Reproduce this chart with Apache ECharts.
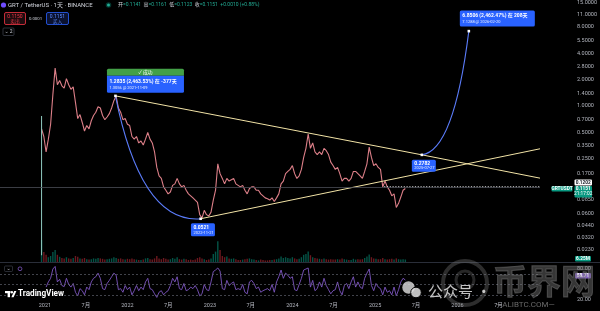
<!DOCTYPE html>
<html>
<head>
<meta charset="utf-8">
<script src="https://cdn.jsdelivr.net/npm/echarts@6.0.0/dist/echarts.min.js"></script>
<style>
html,body{margin:0;padding:0;background:#000;overflow:hidden}
#chart{width:600px;height:311px}
</style>
</head>
<body>
<div id="chart"></div>
<script>
// ================= DATA =================
const startDate = '2020-12-17';
const stepDays = 10;
const closes = [
 0.55,0.45,0.30,0.42,0.62,1.35,2.70,1.75,1.95,1.70,
 1.60,2.05,1.75,1.55,1.65,1.10,0.72,0.80,0.65,0.52,
 0.60,0.55,0.68,0.78,0.85,0.98,0.95,0.78,0.70,0.75,
 0.82,0.95,1.15,1.30,0.95,0.85,0.70,0.72,0.62,0.60,
 0.45,0.42,0.45,0.38,0.40,0.36,0.42,0.50,0.42,0.38,
 0.30,0.20,0.16,0.15,0.12,0.11,0.10,0.105,0.125,0.13,
 0.15,0.13,0.12,0.125,0.11,0.10,0.095,0.09,0.085,0.08,
 0.058,0.053,0.065,0.058,0.056,0.062,0.085,0.11,0.22,0.17,
 0.15,0.13,0.15,0.14,0.145,0.15,0.13,0.125,0.12,0.125,
 0.11,0.10,0.115,0.12,0.12,0.11,0.11,0.10,0.095,0.09,
 0.088,0.085,0.09,0.082,0.09,0.10,0.13,0.14,0.17,0.18,
 0.19,0.21,0.17,0.15,0.16,0.19,0.26,0.33,0.48,0.33,
 0.38,0.30,0.28,0.30,0.28,0.33,0.31,0.28,0.23,0.21,
 0.19,0.20,0.17,0.14,0.15,0.15,0.14,0.15,0.18,0.18,
 0.17,0.16,0.15,0.18,0.22,0.34,0.26,0.21,0.22,0.20,
 0.19,0.12,0.14,0.12,0.11,0.095,0.10,0.07,0.078,0.092,
 0.11,0.1151];
const volumes = [
 55,25,18,12,15,25,30,18,13,10,
 9,12,9,8,10,15,13,9,8,10,
 7,6,7,9,8,10,9,8,6,7,
 8,9,12,10,8,9,7,6,8,7,
 9,7,6,5,5,6,9,10,7,6,
 9,15,9,7,10,8,6,7,10,8,
 12,7,6,8,7,5,6,5,6,10,
 12,9,7,5,6,9,20,26,52,30,
 15,12,14,9,8,9,7,5,5,6,
 7,8,9,7,6,5,4,6,5,4,
 4,5,5,6,7,9,14,10,12,10,
 9,12,9,7,8,12,18,20,26,17,
 12,10,9,8,7,9,7,6,7,6,
 6,7,6,9,7,6,5,5,8,6,
 7,6,7,10,14,19,12,9,8,7,
 7,10,7,6,7,8,6,9,7,6,
 7,6.25];
const rsiValues = [
 null,null,45,55,62,80,85,55,60,48,
 46,62,50,45,52,35,28,42,38,30,
 45,40,55,62,65,72,62,42,40,52,
 58,65,72,68,40,42,35,48,40,45,
 30,38,48,38,45,40,55,62,42,40,
 32,25,35,38,30,35,38,48,62,55,
 65,42,40,52,38,40,45,42,48,40,
 28,32,50,40,38,55,75,78,82,76,
 42,40,58,48,52,55,40,42,40,50,
 35,32,55,58,52,42,45,35,38,40,
 42,38,50,35,55,65,78,62,72,68,
 62,65,40,38,50,62,78,80,82,45,
 58,38,42,55,45,62,48,40,32,38,
 40,55,38,30,48,52,42,55,65,45,
 55,45,42,62,72,80,48,38,52,45,
 42,30,45,35,38,30,45,28,40,55,
 62,58.71];
const firstCandle = { date: '2020-12-17', low: 0.02, high: 0.77 };
const priceTicks = [15, 11, 8, 5.5, 4, 2.8, 2, 1.4, 1, 0.7, 0.5, 0.35, 0.25, 0.17, 0.085, 0.06, 0.044, 0.032, 0.023];
const xTicks = ['2021-01-01','2021-07-01','2022-01-01','2022-07-01','2023-01-01','2023-07-01',
                '2024-01-01','2024-07-01','2025-01-01','2025-07-01','2026-01-01','2026-07-01'];
const rsiTicks = [80, 20];
const rsiBands = [70, 50, 30];
const upperLine = [['2021-11-09', 1.3056], ['2025-07-27', 0.2782], ['2027-01-01', 0.151]];
const lowerLine = [['2022-11-21', 0.0521], ['2027-01-01', 0.326]];
const curves = [['2021-11-09', 1.3056, '2022-11-21', 0.0521], ['2025-07-27', 0.2782, '2026-02-20', 7.1288]];
const annoPoints = [['2021-11-09', 1.3056], ['2022-11-21', 0.0521], ['2025-07-27', 0.2782], ['2026-02-20', 7.1288]];
const annoTexts = [
  { header: '✓ 成功', l1: '1.2835 (2,463.53%) 在 -377天', l2: '1.3056 @ 2021-11-09' },
  { l1: '0.0521', l2: '2022-11-21' },
  { l1: '0.2782', l2: '2025-07-27' },
  { l1: '6.8506 (2,462.47%) 在 208天', l2: '7.1288 @ 2026-02-20' }];
const lastPrice = 0.1151;
const lastTime = '21:17:02';
const hLinePrice = 0.1202;
const hLineStart = '2025-02-10';
const lastVolumeText = '6.25M';
const lastRsi = 58.71;
const ohlc = { open: '0.1141', high: '0.1161', low: '0.1123', close: '0.1151', chg: '+0.0010 (+0.88%)' };
const sellPrice = '0.1150', buyPrice = '0.1151', spread = '0.0001';
const xRange = ['2020-06-16', '2027-01-01'];
const priceRange = [0.01676, 15.4];

// ================= HELPERS / STYLES =================
const DAY = 86400000;
const ts = s => Date.parse(s + 'T00:00:00Z');
const t0 = ts(startDate);
const times = closes.map((_, i) => t0 + i * stepDays * DAY);
const xMin = ts(xRange[0]), xMax = ts(xRange[1]);
const FONT = 'Roboto, "Noto Sans CJK SC", "DejaVu Sans", sans-serif';
const AXIS_TXT = '#b2b5be';
const UP = 'rgba(8,153,129,0.55)', DOWN = 'rgba(242,54,69,0.45)';

const annoLayout = [
  { dx: -8.5, dy: -27, w: 77, hh: 7, h: 17, f1: 5.0, f2: 4.0 },
  { dx: -9.7, dy: 4.5, w: 24, h: 13, f1: 5.0, f2: 4.0 },
  { dx: -10, dy: 5, w: 24, h: 12, f1: 5.0, f2: 4.0 },
  { dx: -9, dy: -20.6, w: 75, h: 16, f1: 5.0, f2: 4.0 }];
const curveLayout = [{ kx: 0.3, base: 'end', dy: 5 }, { kx: 0.68, base: 'start', dy: -4 }];

function renderAnno(params, api) {
  const i = params.dataIndex, a = annoTexts[i], s = annoLayout[i];
  const p = api.coord([api.value(0), api.value(1)]);
  const x = p[0] + s.dx, y = p[1] + s.dy;
  const ch = [];
  let by = y;
  if (a.header) {
    ch.push({ type: 'rect', shape: { x, y, width: s.w, height: s.hh, r: [1.5, 1.5, 0, 0] }, style: { fill: '#43a047' } });
    ch.push({ type: 'text', style: { text: a.header, x: x + s.w / 2, y: y + s.hh / 2 + 0.3, align: 'center', verticalAlign: 'middle', fill: '#fff', fontSize: 4.8, fontFamily: FONT } });
    by = y + s.hh;
  }
  ch.push({ type: 'rect', shape: { x, y: by, width: s.w, height: s.h, r: a.header ? [0, 0, 1.5, 1.5] : 1.5 }, style: { fill: '#2962ff' } });
  ch.push({ type: 'text', style: { text: a.l1, x: x + 2.5, y: by + s.h * 0.32, verticalAlign: 'middle', fill: '#fff', fontSize: s.f1, fontWeight: 'bold', fontFamily: FONT } });
  ch.push({ type: 'text', style: { text: a.l2, x: x + 2.5, y: by + s.h * 0.72, verticalAlign: 'middle', fill: '#e8eeff', fontSize: s.f2, fontFamily: FONT } });
  ch.push({ type: 'rect', shape: { x: p[0] - 1.3, y: p[1] - 1.3, width: 2.6, height: 2.6 }, style: { fill: '#fff' } });
  return { type: 'group', children: ch };
}

function renderCurve(params, api) {
  const s = curveLayout[params.dataIndex];
  const a = api.coord([api.value(0), api.value(1)]);
  const b = api.coord([api.value(2), api.value(3)]);
  const cpx = a[0] + s.kx * (b[0] - a[0]);
  const cpy = (s.base === 'end' ? b[1] : a[1]) + s.dy;
  return { type: 'bezierCurve', shape: { x1: a[0], y1: a[1], x2: b[0], y2: b[1], cpx1: cpx, cpy1: cpy },
           style: { stroke: '#5b7cfa', lineWidth: 1.1, fill: null } };
}

function makeTagRenderer(tags) {
  return function (params, api) {
    const t = tags[params.dataIndex];
    const p = api.coord([api.value(0), api.value(1)]);
    const x = p[0] + t.dx, y = p[1] + t.dy;
    const ch = [{ type: 'rect', shape: { x, y, width: t.w, height: t.h, r: 1 }, style: { fill: t.bg } }];
    t.lines.forEach((ln, k) => ch.push({ type: 'text', style: { text: ln, x: x + t.w / 2, y: y + 2.9 + k * 5.4,
      align: 'center', verticalAlign: 'middle', fill: t.fg, fontSize: 4.8, fontWeight: k === 0 ? 'bold' : 'normal', fontFamily: FONT } }));
    return { type: 'group', children: ch };
  };
}
const priceTagDefs = [
  { value: hLinePrice, lines: [hLinePrice.toFixed(4)], dx: 34.5, dy: -7.4, w: 17.5, h: 6, bg: '#ffffff', fg: '#131722' },
  { value: lastPrice, lines: [lastPrice.toFixed(4), lastTime], dx: 34.5, dy: -2.6, w: 17.5, h: 11.5, bg: '#089981', fg: '#ffffff' },
  { value: lastPrice, lines: ['GRTUSDT'], dx: 11.5, dy: -2.6, w: 21, h: 5.6, bg: '#089981', fg: '#ffffff' }];
const volTagDefs = [{ value: volumes[volumes.length - 1], lines: [lastVolumeText], dx: 35, dy: -3.5, w: 16, h: 5.6, bg: '#089981', fg: '#ffffff' }];
const rsiTagDefs = [{ value: lastRsi, lines: [lastRsi.toFixed(2)], dx: 35, dy: -7, w: 16, h: 5.6, bg: '#7e57c2', fg: '#ffffff' }];

// ================= OPTION =================
const hiddenX = (gi) => ({ type: 'value', gridIndex: gi, min: xMin, max: xMax, axisLine: { show: false }, axisTick: { show: false }, axisLabel: { show: false }, splitLine: { show: false } });
const fmtDate = v => { const d = new Date(v); return d.getUTCMonth() === 0 ? String(d.getUTCFullYear()) : (d.getUTCMonth() + 1) + '月'; };

const option = {
  backgroundColor: '#000000',
  animation: false,
  grid: [
    { left: 0, right: 60, top: 0, height: 262 },
    { left: 0, right: 60, top: 238, height: 24 },
    { left: 0, right: 60, top: 264, height: 36 }],
  xAxis: [hiddenX(0), hiddenX(1),
    { type: 'value', gridIndex: 2, min: xMin, max: xMax, axisLine: { show: false }, axisTick: { show: false }, splitLine: { show: false },
      axisLabel: { show: true, customValues: xTicks.map(ts), margin: 2.5, color: AXIS_TXT, fontSize: 5.5, fontFamily: FONT, showMinLabel: true, showMaxLabel: true, formatter: fmtDate } }],
  yAxis: [
    { type: 'log', gridIndex: 0, logBase: 10, min: priceRange[0], max: priceRange[1], position: 'right', axisLine: { show: false }, axisTick: { show: false }, axisLabel: { show: false }, splitLine: { show: false } },
    { type: 'value', gridIndex: 0, min: Math.log(priceRange[0]), max: Math.log(priceRange[1]), position: 'right', axisLine: { show: false }, axisTick: { show: false }, splitLine: { show: false },
      axisLabel: { customValues: priceTicks.map(Math.log), margin: 37, align: 'left', color: AXIS_TXT, fontSize: 5.5, fontFamily: FONT, formatter: v => Math.exp(v).toFixed(4) } },
    { type: 'value', gridIndex: 1, min: 0, max: 60, show: false },
    { type: 'value', gridIndex: 2, min: 20, max: 89.7, position: 'right', axisLine: { show: false }, axisTick: { show: false }, splitLine: { show: false },
      axisLabel: { customValues: rsiTicks, margin: 37, align: 'left', color: AXIS_TXT, fontSize: 5.5, fontFamily: FONT, formatter: v => v.toFixed(2) } }],
  series: [
    { type: 'line', name: 'price', xAxisIndex: 0, yAxisIndex: 0, data: times.map((t, i) => [t, closes[i]]), showSymbol: false,
      lineStyle: { color: '#dc7f88', width: 1.1 }, z: 3,
      markLine: { silent: true, symbol: 'none', label: { show: false }, lineStyle: { color: '#4a4d55', type: 'solid', width: 0.8 }, data: [{ yAxis: lastPrice }] } },
    { type: 'line', name: 'firstWick', xAxisIndex: 0, yAxisIndex: 0, data: [[ts(firstCandle.date), firstCandle.low], [ts(firstCandle.date), firstCandle.high]],
      showSymbol: false, lineStyle: { color: '#8fc9bf', width: 1 }, z: 3 },
    { type: 'line', name: 'upper', xAxisIndex: 0, yAxisIndex: 0, data: upperLine.map(d => [ts(d[0]), d[1]]), showSymbol: false, lineStyle: { color: '#f2e3a6', width: 1 }, z: 4 },
    { type: 'line', name: 'lower', xAxisIndex: 0, yAxisIndex: 0, data: lowerLine.map(d => [ts(d[0]), d[1]]), showSymbol: false, lineStyle: { color: '#f2e3a6', width: 1 }, z: 4 },
    { type: 'line', name: 'hline', xAxisIndex: 0, yAxisIndex: 0, data: [[ts(hLineStart), hLinePrice], [xMax, hLinePrice]], showSymbol: false, lineStyle: { color: '#ffffff', width: 1, type: [1.2, 1.6] }, z: 4 },
    { type: 'custom', name: 'curves', xAxisIndex: 0, yAxisIndex: 0, renderItem: renderCurve, data: curves.map(c => [ts(c[0]), c[1], ts(c[2]), c[3]]), z: 5 },
    { type: 'custom', name: 'annotations', xAxisIndex: 0, yAxisIndex: 0, renderItem: renderAnno, data: annoPoints.map(d => [ts(d[0]), d[1]]), z: 6 },
    { type: 'custom', name: 'priceTags', xAxisIndex: 0, yAxisIndex: 0, renderItem: makeTagRenderer(priceTagDefs), data: priceTagDefs.map(t => [xMax, t.value]), z: 7, clip: false },
    { type: 'bar', name: 'volume', xAxisIndex: 1, yAxisIndex: 2, barWidth: 1.4, data: times.map((t, i) => ({ value: [t, volumes[i]], itemStyle: { color: (i > 0 && closes[i] < closes[i - 1]) ? DOWN : UP } })), z: 2 },
    { type: 'custom', name: 'volTag', xAxisIndex: 1, yAxisIndex: 2, renderItem: makeTagRenderer(volTagDefs), data: volTagDefs.map(t => [xMax, t.value]), z: 7, clip: false },
    { type: 'line', name: 'rsi', xAxisIndex: 2, yAxisIndex: 3, data: times.map((t, i) => [t, rsiValues[i]]), showSymbol: false, connectNulls: false,
      lineStyle: { color: '#7e57c2', width: 0.9 }, z: 3,
      markLine: { silent: true, symbol: 'none', label: { show: false }, lineStyle: { color: '#5d606b', type: [2, 2], width: 0.7 }, data: rsiBands.map(v => ({ yAxis: v })) } },
    { type: 'custom', name: 'rsiTag', xAxisIndex: 2, yAxisIndex: 3, renderItem: makeTagRenderer(rsiTagDefs), data: rsiTagDefs.map(t => [xMax, t.value]), z: 7, clip: false }
  ],
  graphic: { elements: [
    { type: 'circle', shape: { cx: 3.5, cy: 5, r: 2.6 }, style: { fill: '#6f4cff' }, z: 10 },
    { type: 'text', x: 8, y: 5, style: { text: 'GRT / TetherUS · 1天 · BINANCE', verticalAlign: 'middle', fill: '#d1d4dc', fontSize: 6, fontFamily: FONT }, z: 10 },
    { type: 'circle', shape: { cx: 108.5, cy: 5, r: 2.8 }, style: { fill: 'rgba(8,153,129,0.35)' }, z: 10 },
    { type: 'circle', shape: { cx: 108.5, cy: 5, r: 1.5 }, style: { fill: '#22ab94' }, z: 10 },
    { type: 'text', x: 118, y: 5, style: { text: '{w|开}{g|=' + ohlc.open + '}  {w|高}{g|=' + ohlc.high + '}  {w|低}{g|=' + ohlc.low + '}  {w|收}{g|=' + ohlc.close + '}  {g|' + ohlc.chg + '}',
      verticalAlign: 'middle', fontSize: 5, fontFamily: FONT, rich: { w: { fill: '#d1d4dc', fontSize: 5, fontFamily: FONT }, g: { fill: '#22ab94', fontSize: 5, fontFamily: FONT } } }, z: 10 },
    { type: 'rect', shape: { x: 4.5, y: 12.5, width: 21, height: 12, r: 1.5 }, style: { fill: '#1d0c0f', stroke: '#f23645', lineWidth: 0.8 }, z: 10 },
    { type: 'text', x: 15, y: 16.3, style: { text: sellPrice, align: 'center', verticalAlign: 'middle', fill: '#f23645', fontSize: 5, fontFamily: FONT }, z: 10 },
    { type: 'text', x: 15, y: 21.5, style: { text: '卖出', align: 'center', verticalAlign: 'middle', fill: '#f23645', fontSize: 4.8, fontFamily: FONT }, z: 10 },
    { type: 'text', x: 35.5, y: 18.5, style: { text: spread, align: 'center', verticalAlign: 'middle', fill: '#d1d4dc', fontSize: 4.3, fontFamily: FONT }, z: 10 },
    { type: 'rect', shape: { x: 46.5, y: 12.5, width: 22, height: 12, r: 1.5 }, style: { fill: '#0b1230', stroke: '#2962ff', lineWidth: 0.8 }, z: 10 },
    { type: 'text', x: 57.5, y: 16.3, style: { text: buyPrice, align: 'center', verticalAlign: 'middle', fill: '#5b8cff', fontSize: 5, fontFamily: FONT }, z: 10 },
    { type: 'text', x: 57.5, y: 21.5, style: { text: '买入', align: 'center', verticalAlign: 'middle', fill: '#5b8cff', fontSize: 4.8, fontFamily: FONT }, z: 10 },
    { type: 'rect', shape: { x: 3, y: 28, width: 11, height: 7.5, r: 1 }, style: { fill: '#000', stroke: '#3a3e48', lineWidth: 0.8 }, z: 10 },
    { type: 'text', x: 8.5, y: 31.8, style: { text: '⌄ 2', align: 'center', verticalAlign: 'middle', fill: '#d1d4dc', fontSize: 5, fontFamily: FONT }, z: 10 },
    { type: 'line', shape: { x1: 0, y1: 262.5, x2: 600, y2: 262.5 }, style: { stroke: '#2a2e39', lineWidth: 1 }, z: 9 },
    { type: 'rect', shape: { x: 4.5, y: 266, width: 8, height: 5.5, r: 1 }, style: { fill: '#000', stroke: '#3a3e48', lineWidth: 0.7 }, z: 10 },
    { type: 'text', x: 8.5, y: 268.3, style: { text: '⌄', align: 'center', verticalAlign: 'middle', fill: '#d1d4dc', fontSize: 5, fontFamily: FONT }, z: 10 },
    { type: 'circle', shape: { cx: 20, cy: 268.8, r: 1.9 }, style: { fill: 'none', stroke: '#7e57c2', lineWidth: 0.8 }, z: 10 },
    { type: 'rect', shape: { x: 5, y: 291, width: 5.5, height: 2.2 }, style: { fill: '#fff' }, z: 10 },
    { type: 'rect', shape: { x: 7.6, y: 291, width: 2.4, height: 6.2 }, style: { fill: '#fff' }, z: 10 },
    { type: 'circle', shape: { cx: 11.9, cy: 292.2, r: 1.2 }, style: { fill: '#fff' }, z: 10 },
    { type: 'polygon', shape: { points: [[11.4, 297.2], [14.2, 291], [16.4, 291], [13.6, 297.2]] }, style: { fill: '#fff' }, z: 10 },
    { type: 'text', x: 18, y: 294.2, style: { text: 'TradingView', verticalAlign: 'middle', fill: '#ffffff', fontSize: 8.2, fontWeight: 'bold', fontFamily: FONT }, z: 10 },
    { type: 'circle', shape: { cx: 465, cy: 283, r: 22 }, style: { fill: 'none', stroke: 'rgba(130,130,130,0.35)', lineWidth: 4 }, z: 11 },
    { type: 'circle', shape: { cx: 465, cy: 280, r: 9 }, style: { fill: 'none', stroke: 'rgba(130,130,130,0.3)', lineWidth: 3 }, z: 11 },
    { type: 'circle', shape: { cx: 408.5, cy: 287.5, r: 6.2 }, style: { fill: 'rgba(225,225,225,0.8)' }, z: 11 },
    { type: 'circle', shape: { cx: 416, cy: 292.5, r: 5.3 }, style: { fill: 'rgba(225,225,225,0.85)', stroke: '#000', lineWidth: 1 }, z: 12 },
    { type: 'text', x: 428, y: 291, style: { text: '公众号 ·', verticalAlign: 'middle', fill: 'rgba(235,235,235,0.82)', fontSize: 15, fontFamily: '"Noto Sans CJK SC", sans-serif' }, z: 11 },
    { type: 'text', x: 493, y: 281, style: { text: '币界网', verticalAlign: 'middle', fill: 'rgba(120,120,120,0.45)', stroke: 'rgba(200,200,200,0.3)', lineWidth: 1, fontSize: 34, fontWeight: 'bold', fontFamily: '"Noto Sans CJK SC", sans-serif' }, z: 11 },
    { type: 'text', x: 496, y: 305, style: { text: '—ALIBTC.COM—', verticalAlign: 'middle', fill: 'rgba(190,190,190,0.55)', fontSize: 8, fontFamily: FONT }, z: 11 }
  ] }
};

const chart = echarts.init(document.getElementById('chart'), null, { renderer: 'canvas', width: 600, height: 311 });
chart.setOption(option);
</script>
</body>
</html>
